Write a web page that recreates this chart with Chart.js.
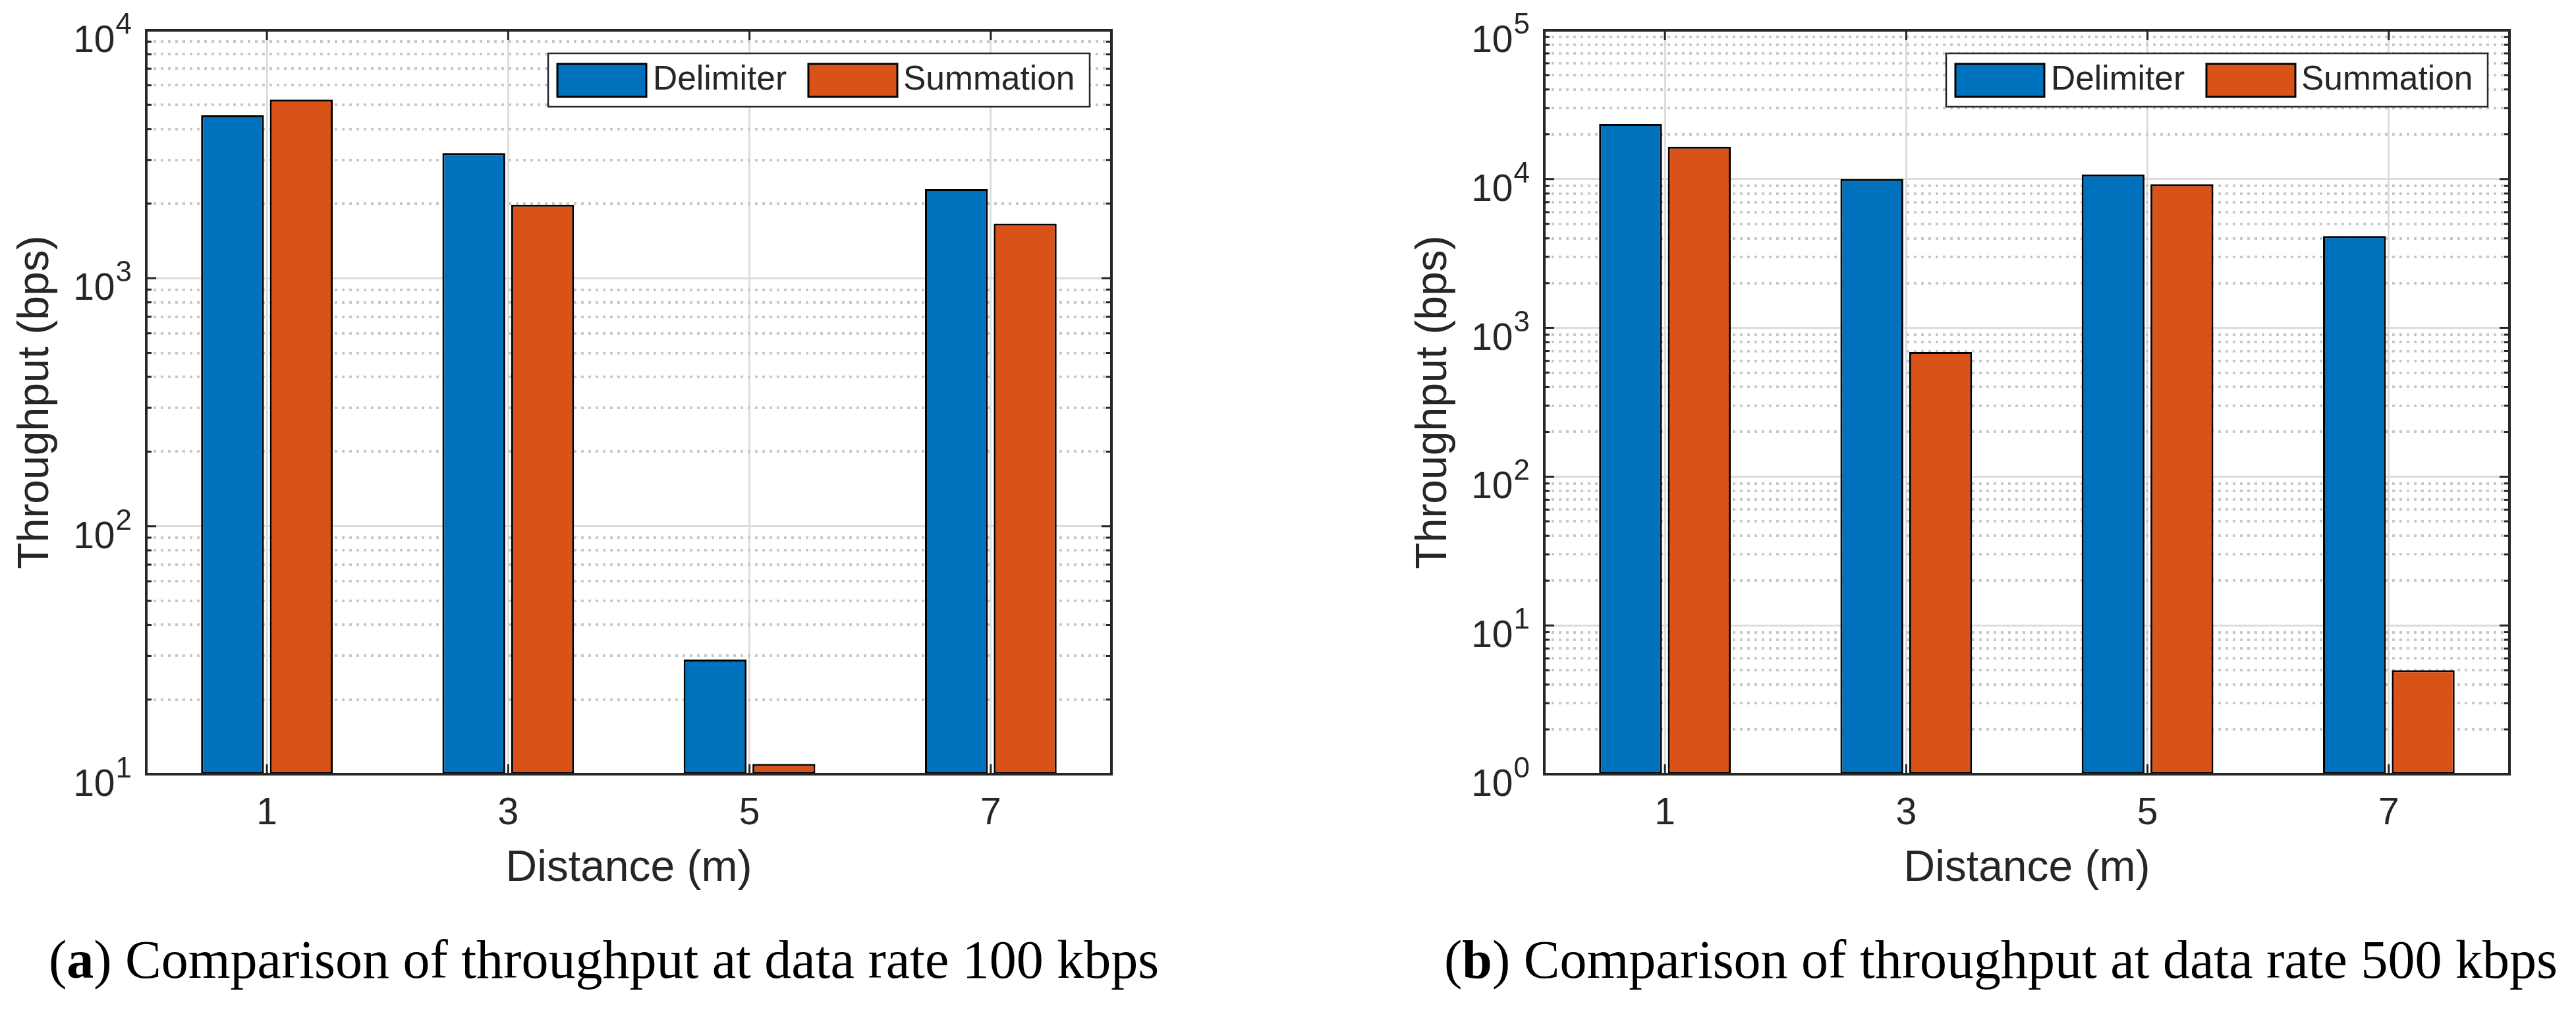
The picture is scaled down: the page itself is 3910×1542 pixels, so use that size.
<!DOCTYPE html>
<html lang="en">
<head>
<meta charset="UTF-8">
<title>Throughput comparison</title>
<script src="https://cdn.jsdelivr.net/npm/chart.js"></script>
<style>
  body { margin: 0; background: #fff; width: 3910px; height: 1542px; overflow: hidden; position: relative; }
  canvas { position: absolute; top: 0; }
  #chartA { left: 0; }
  #chartB { left: 2122px; }
  .caption {
    position: absolute; top: 1416px;
    font-family: "Liberation Serif", serif; font-size: 82px; line-height: 82px;
    color: #000; white-space: nowrap;
  }
</style>
</head>
<body>
<canvas id="chartA" width="1788" height="1400"></canvas>
<canvas id="chartB" width="1788" height="1400"></canvas>
<div class="caption" style="left:74px">(<b>a</b>) Comparison of throughput at data rate 100 kbps</div>
<div class="caption" style="left:2192px">(<b>b</b>) Comparison of throughput at data rate 500 kbps</div>

<script>
// values (bps)
const distances = ['1', '3', '5', '7'];
const delimiter100 = [4540, 3200, 29, 2290];
const summation100 = [5250, 1980, 11, 1660];
const delimiter500 = [23500, 10000, 10750, 4140];
const summation500 = [16500, 690, 9250, 5];

// y axis decades for each panel, minor ticks at 2..9 of each decade
const decades100 = [10, 100, 1000, 10000];
const decades500 = [1, 10, 100, 1000, 10000, 100000];
const minorSteps = [2, 3, 4, 5, 6, 7, 8, 9];

const ink = '#262626';
const blue = '#0072BD';
const orange = '#D95319';

Chart.defaults.font.family = '"Liberation Sans", Arial, sans-serif';
Chart.defaults.color = ink;

function isDecade(v) {
    const l = Math.log10(v);
    return Math.abs(l - Math.round(l)) < 1e-9;
}

function logTicks(decades) {
    const vals = [];
    decades.forEach((d, i) => {
        vals.push(d);
        if (i < decades.length - 1) minorSteps.forEach(m => vals.push(d * m));
    });
    return vals.sort((a, b) => a - b);
}

// MATLAB-ish box: dotted minor grid, inner ticks, box, 10^n labels
const matlabAxes = {
    id: 'matlabAxes',
    beforeDatasetsDraw(chart) {
        const {ctx, chartArea: a, scales: {y}} = chart;
        ctx.save();
        ctx.strokeStyle = '#c8c8c8';
        ctx.lineWidth = 4;
        ctx.setLineDash([4, 7]);
        y.ticks.forEach(t => {
            if (isDecade(t.value)) return;
            const py = Math.round(y.getPixelForValue(t.value));
            ctx.beginPath();
            ctx.moveTo(a.left, py);
            ctx.lineTo(a.right, py);
            ctx.stroke();
        });
        ctx.restore();
    },
    afterDatasetsDraw(chart) {
        const {ctx, chartArea: a, scales: {x, y}} = chart;
        ctx.save();
        ctx.strokeStyle = ink;
        ctx.lineWidth = 3;
        y.ticks.forEach(t => {
            const py = y.getPixelForValue(t.value);
            const len = isDecade(t.value) ? 15 : 8;
            ctx.beginPath();
            ctx.moveTo(a.left, py); ctx.lineTo(a.left + len, py);
            ctx.moveTo(a.right, py); ctx.lineTo(a.right - len, py);
            ctx.stroke();
        });
        x.ticks.forEach((t, i) => {
            const px = x.getPixelForTick(i);
            ctx.beginPath();
            ctx.moveTo(px, a.bottom); ctx.lineTo(px, a.bottom - 15);
            ctx.moveTo(px, a.top); ctx.lineTo(px, a.top + 15);
            ctx.stroke();
        });
        ctx.lineWidth = 4;
        ctx.strokeRect(a.left, a.top, a.right - a.left, a.bottom - a.top);

        ctx.fillStyle = ink;
        ctx.textAlign = 'right';
        ctx.textBaseline = 'alphabetic';
        y.ticks.forEach(t => {
            if (!isDecade(t.value)) return;
            const py = y.getPixelForValue(t.value);
            const exp = String(Math.round(Math.log10(t.value)));
            const xr = a.left - 22;
            ctx.font = '44px "Liberation Sans"';
            const ew = ctx.measureText(exp).width;
            ctx.fillText(exp, xr, py + 5);
            ctx.font = '57px "Liberation Sans"';
            ctx.fillText('10', xr - ew - 1, py + 33);
        });
        ctx.restore();
    },
    afterDraw(chart) {
        // legend box in the upper right corner of the axes
        const {ctx, chartArea: a} = chart;
        const w = 822, h = 81;
        const lx = a.right - 33 - w, ly = a.top + 35;
        const swatchX = [14, 395], textX = [159, 539];
        ctx.save();
        ctx.fillStyle = '#fff';
        ctx.fillRect(lx, ly, w, h);
        ctx.strokeStyle = ink;
        ctx.lineWidth = 2.5;
        ctx.strokeRect(lx, ly, w, h);
        chart.data.datasets.forEach((ds, i) => {
            ctx.fillStyle = ds.backgroundColor;
            ctx.fillRect(lx + swatchX[i], ly + 16, 135, 50);
            ctx.strokeStyle = '#000';
            ctx.lineWidth = 3;
            ctx.strokeRect(lx + swatchX[i], ly + 16, 135, 50);
            ctx.fillStyle = ink;
            ctx.font = '51.5px "Liberation Sans"';
            ctx.textAlign = 'left';
            ctx.textBaseline = 'middle';
            ctx.fillText(ds.label, lx + textX[i], ly + h / 2);
        });
        ctx.restore();
    }
};

function makeChart(id, delim, summ, decades) {
    const tickVals = logTicks(decades);
    return new Chart(document.getElementById(id), {
        type: 'bar',
        data: {
            labels: distances,
            datasets: [
                {
                    label: 'Delimiter',
                    data: delim,
                    backgroundColor: blue,
                    borderColor: '#000',
                    borderWidth: 3,
                    borderSkipped: false,
                    barPercentage: 0.914,
                    categoryPercentage: 0.57
                },
                {
                    label: 'Summation',
                    data: summ,
                    backgroundColor: orange,
                    borderColor: '#000',
                    borderWidth: 3,
                    borderSkipped: false,
                    barPercentage: 0.914,
                    categoryPercentage: 0.57
                }
            ]
        },
        options: {
            responsive: false,
            animation: false,
            devicePixelRatio: 1,
            layout: { padding: { left: 0, top: 46, right: 101, bottom: 0 } },
            plugins: { legend: { display: false }, tooltip: { enabled: false } },
            scales: {
                x: {
                    type: 'category',
                    offset: true,
                    grid: { offset: false, color: '#dcdcdc', lineWidth: 3, drawTicks: false },
                    border: { display: false },
                    ticks: { font: { size: 57 }, color: ink, padding: 26, maxRotation: 0 },
                    afterFit(scale) { scale.height = 225; },
                    title: {
                        display: true, text: 'Distance (m)', color: ink,
                        font: { size: 66 }, padding: { top: 0, bottom: 42 }
                    }
                },
                y: {
                    type: 'logarithmic',
                    min: decades[0],
                    max: decades[decades.length - 1],
                    afterBuildTicks(scale) { scale.ticks = tickVals.map(v => ({ value: v })); },
                    afterFit(scale) { scale.width = 222; },
                    ticks: { display: false },
                    grid: {
                        color: c => (c.tick && isDecade(c.tick.value)) ? '#dcdcdc' : 'rgba(0,0,0,0)',
                        lineWidth: 3,
                        drawTicks: false
                    },
                    border: { display: false },
                    title: {
                        display: true, text: 'Throughput (bps)', color: ink,
                        font: { size: 66 }, padding: { top: 15, bottom: 0 }
                    }
                }
            }
        },
        plugins: [matlabAxes]
    });
}

makeChart('chartA', delimiter100, summation100, decades100);
makeChart('chartB', delimiter500, summation500, decades500);
</script>
</body>
</html>
